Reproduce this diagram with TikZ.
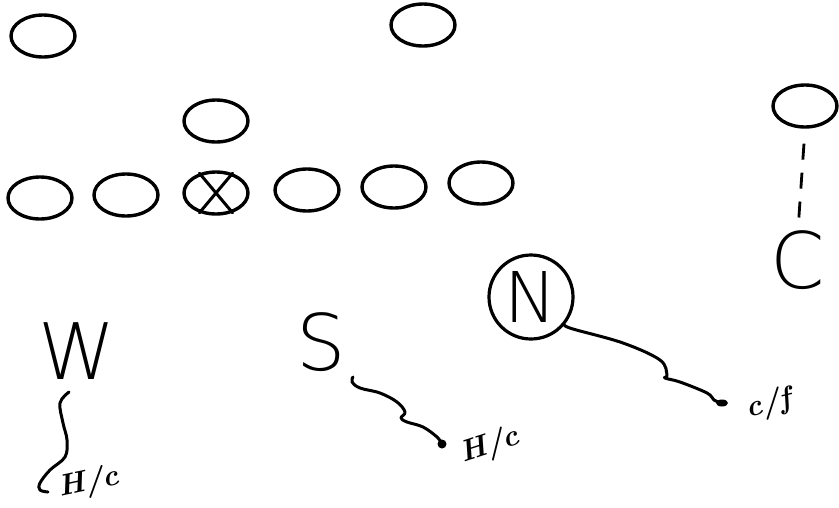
\documentclass[tikz,border=0pt]{standalone}
\usepackage{fontspec}
\IfFontExistsTF{DejaVu Sans ExtraLight}
  {\newfontfamily\thinfont{DejaVu Sans ExtraLight}}
  {\IfFontExistsTF{Fira Sans Light}
    {\newfontfamily\thinfont{Fira Sans Light}}
    {\newfontfamily\thinfont{Liberation Sans}}}
\usetikzlibrary{shapes.geometric}
\newcommand{\handtext}[2]{\rotatebox{#1}{\fontsize{30}{30}\selectfont\textbf{\textit{#2}}}}
\begin{document}
\begin{tikzpicture}[x=1pt,y=-1pt,
  player/.style={draw, ellipse, line width=3.4pt, minimum width=64pt, minimum height=42pt, inner sep=0pt},
  letter/.style={font=\thinfont\fontsize{78}{78}\selectfont, inner sep=0pt},
  route/.style={line width=3pt, line cap=round, line join=round},
  hand/.style={inner sep=0pt},
  dashline/.style={line width=2.8pt, dash pattern=on 16pt off 13pt}]
\useasboundingbox (0,0) rectangle (839,507);
% ellipses
\node[player] (t1) at (43,36) {};
\node[player] (t2) at (423,25) {};
\node[player] (lb) at (216,121) {};
\node[player] (l1) at (40,198) {};
\node[player] (l2) at (126,195) {};
\node[player] (X)  at (216,193) {};
\node[player] (l4) at (307,190) {};
\node[player] (l5) at (394,187) {};
\node[player] (l6) at (481,183) {};
\node[player] (R)  at (805,106) {};
\draw[route] (X.130) -- (X.-50);
\draw[route] (X.50) -- (X.-130);
% letters
\node[letter] (W) at (77,351) {W};
\node[letter] (S) at (321,342) {S};
\node[letter] (C) at (798,260) {C};
\node[draw, circle, line width=3.2pt, minimum size=84pt, inner sep=0pt,
      font=\thinfont\fontsize{70}{70}\selectfont] (N) at (531,297) {N};
\draw[dashline, shorten <=15pt, shorten >=6pt] (R.south) -- (C.north);
% routes
\coordinate (w0) at (69,392);
\coordinate (wEnd) at (48,492);
\coordinate (s0) at (353,377);
\coordinate (sEnd) at (442,444);
\coordinate (nEnd) at (722,403);
\draw[route] plot[smooth, tension=0.6] coordinates {(w0) (60,403) (63,423) (67,440) (65,457) (50,470) (40,483) (40,490) (wEnd)};
\draw[route] plot[smooth, tension=0.6] coordinates {(s0) (352,382) (360,388) (380,393) (397,402) (405,412) (401,418) (407,422) (423,427) (437,437) (sEnd)};
\draw[route] plot[smooth, tension=0.6] coordinates {(N.-40) (573,329) (623,343) (660,360) (667,375) (665,378) (680,382) (707,393) (714,400) (nEnd)};
\fill (sEnd) circle (4.5pt);
\fill (nEnd) ellipse (6pt and 3.5pt);
% labels
\node[hand] (lw) at (89,483) {\handtext{12}{H/c}};
\node[hand] (ls) at (490,446) {\handtext{18}{H/c}};
\node[hand] (ln) at (771,404) {\handtext{14}{c/f}};
\end{tikzpicture}
\end{document}
